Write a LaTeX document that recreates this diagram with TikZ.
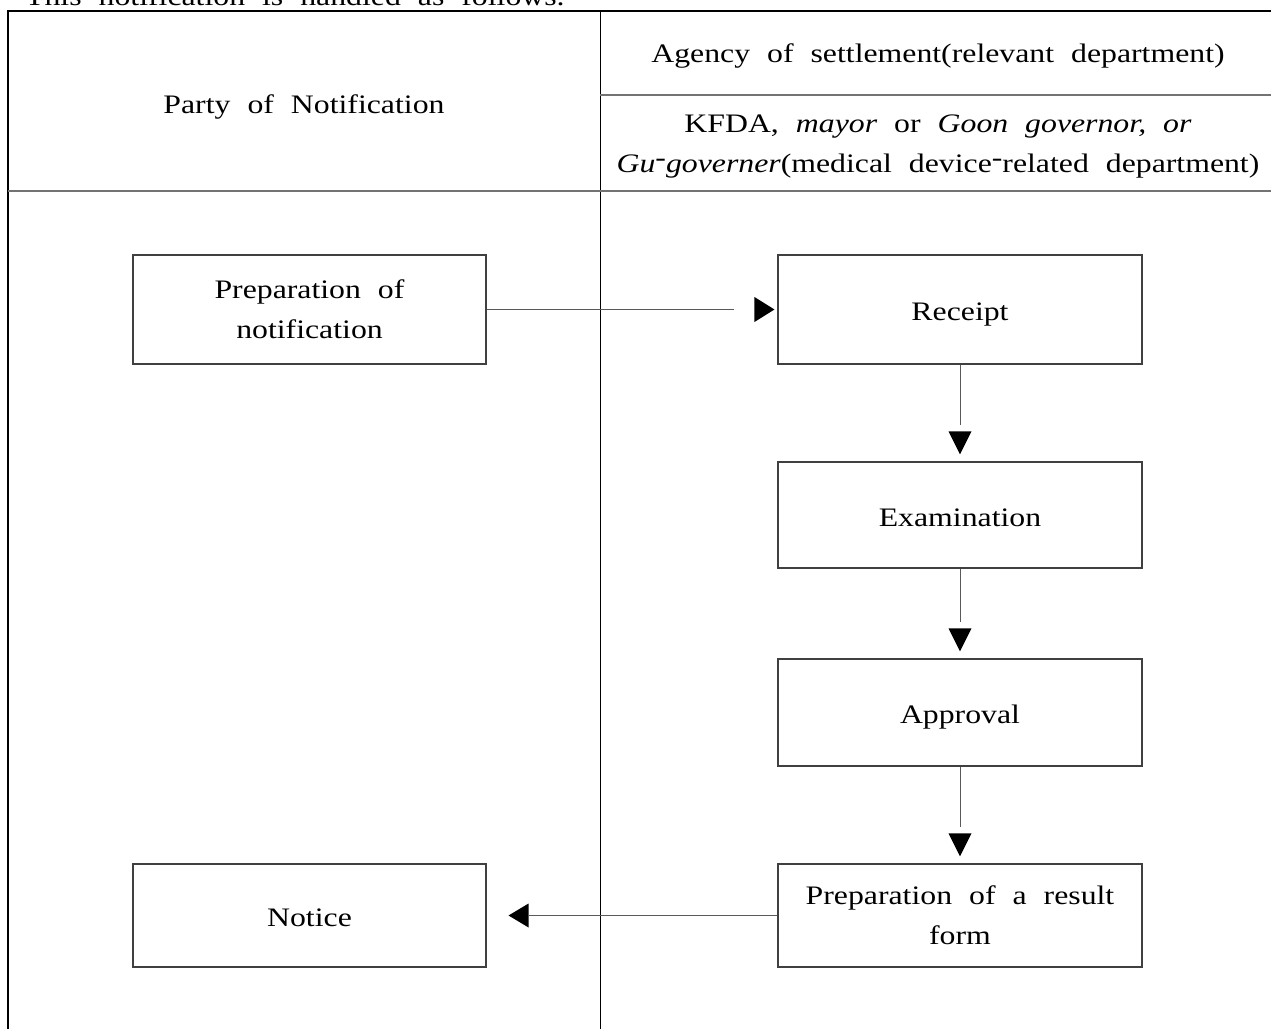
\documentclass[tikz,border=0pt]{standalone}
\usepackage{fontspec}
\setmainfont{Liberation Serif}[FakeStretch=1.19,WordSpace=2.14]
\usetikzlibrary{calc}
% hyphen set high, as in the printed form
\newcommand{\uphy}{\raisebox{0.2em}{-}}
\begin{document}
\begin{tikzpicture}[x=1pt,y=1pt,
  every node/.style={font=\fontsize{26.7}{40}\selectfont, inner sep=0pt},
  oneline/.style={text height=25, text depth=3},
  box/.style={draw=black!75, line width=1.1pt, align=center},
  conn/.style={draw=black!65, line width=1pt},
  arrhead/.style={fill=black},
  frameline/.style={draw=black, line width=2.2pt},
  rule/.style={draw=black!55, line width=2pt},
  divider/.style={draw=black, line width=1pt}]
\useasboundingbox (0,0) rectangle (1271,-1028);

% caption line above the table
\node[anchor=base west] (cap) at (25,-5) {This notification is handled as follows.};

% table frame and rules
\draw[frameline] (7.7,-1045) -- (7.7,-11) -- (1295,-11);
\draw[divider] (600,-11) -- (600,-1045);
\draw[rule] (600,-95) -- (1295,-95);
\draw[rule] (7.7,-191) -- (1295,-191);

% headers
\node[oneline] (hleft) at (304,-102) {Party of Notification};
\node[oneline] (hright) at (938,-51) {Agency of settlement(relevant department)};
\node[align=center] (hsub) at (938,-146) {KFDA, \textit{mayor} or \textit{Goon governor, or}\\
  \textit{Gu\uphy governer}(medical device\uphy related department)};

% process boxes
\node[box, minimum width=353, minimum height=109] (prep) at (309.5,-309.5) {Preparation of\\notification};
\node[box, oneline, minimum width=364, minimum height=109] (receipt) at (960,-309.5) {Receipt};
\node[box, oneline, minimum width=364, minimum height=106] (exam) at (960,-515) {Examination};
\node[box, oneline, minimum width=364, minimum height=107] (appr) at (960,-712.5) {Approval};
\node[box, minimum width=364, minimum height=103] (result) at (960,-915.5) {Preparation of a result\\form};
\node[box, oneline, minimum width=353, minimum height=103] (notice) at (309.5,-915.5) {Notice};

% connectors
\draw[conn] (prep.east) -- ([xshift=-43]receipt.west);
\fill[arrhead] ([xshift=-3]receipt.west) -- ++(-20,12.5) -- ++(0,-25) -- cycle;

\draw[conn] (receipt.south) -- ([yshift=36]exam.north);
\fill[arrhead] ([yshift=7]exam.north) -- ++(-11.5,23) -- ++(23,0) -- cycle;

\draw[conn] (exam.south) -- ([yshift=36]appr.north);
\fill[arrhead] ([yshift=7]appr.north) -- ++(-11.5,23) -- ++(23,0) -- cycle;

\draw[conn] (appr.south) -- ([yshift=36]result.north);
\fill[arrhead] ([yshift=7]result.north) -- ++(-11.5,23) -- ++(23,0) -- cycle;

\draw[conn] (result.west) -- ([xshift=42]notice.east);
\fill[arrhead] ([xshift=22]notice.east) -- ++(20,12) -- ++(0,-24) -- cycle;
\end{tikzpicture}
\end{document}
